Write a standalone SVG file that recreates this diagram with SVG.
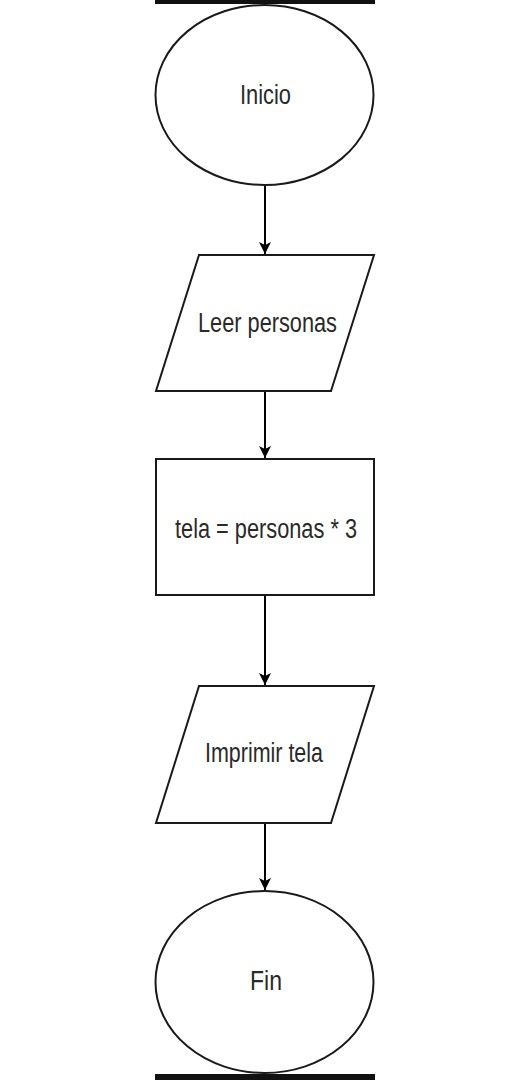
<svg xmlns="http://www.w3.org/2000/svg" width="531" height="1080" viewBox="0 0 531 1080">
<style>
.shape{fill:#fff;stroke:#1a1a1a;stroke-width:2}
.lbl{font-family:"Liberation Sans",Arial,sans-serif;font-size:27px;fill:#2a2a2a;text-anchor:middle}
.conn{stroke:#000;stroke-width:2;fill:none}
.bar{fill:#111}
</style>
<defs>
<marker id="ah" viewBox="0 0 12 12" refX="12" refY="6" markerWidth="12" markerHeight="13" markerUnits="userSpaceOnUse" orient="auto">
<path d="M0,0 L12,6 L0,12 L3,6 Z" fill="#000"/>
</marker>
</defs>
<rect class="bar" x="155" y="0" width="220" height="4"/>
<rect class="bar" x="155" y="1074" width="220" height="6"/>
<g id="conectores">
<line class="conn" x1="265" y1="186" x2="265" y2="254" marker-end="url(#ah)"/>
<line class="conn" x1="265" y1="391" x2="265" y2="458" marker-end="url(#ah)"/>
<line class="conn" x1="265" y1="595" x2="265" y2="685" marker-end="url(#ah)"/>
<line class="conn" x1="265" y1="823" x2="265" y2="890" marker-end="url(#ah)"/>
</g>
<g id="inicio">
<ellipse class="shape" cx="264.5" cy="95" rx="109" ry="90"/>
<text class="lbl" x="265.5" y="104" textLength="51" lengthAdjust="spacingAndGlyphs">Inicio</text>
</g>
<g id="leer">
<polygon class="shape" points="199,255 374,255 331,391 156,391"/>
<text class="lbl" x="267.5" y="332" textLength="139" lengthAdjust="spacingAndGlyphs">Leer personas</text>
</g>
<g id="proceso">
<rect class="shape" x="156" y="459" width="218" height="136"/>
<text class="lbl" x="266" y="538" textLength="182" lengthAdjust="spacingAndGlyphs">tela = personas * 3</text>
</g>
<g id="imprimir">
<polygon class="shape" points="199,686 374,686 331,823 156,823"/>
<text class="lbl" x="264" y="762" textLength="118" lengthAdjust="spacingAndGlyphs">Imprimir tela</text>
</g>
<g id="fin">
<ellipse class="shape" cx="264.5" cy="982" rx="109" ry="91"/>
<text class="lbl" x="266" y="990" textLength="32" lengthAdjust="spacingAndGlyphs">Fin</text>
</g>
</svg>
